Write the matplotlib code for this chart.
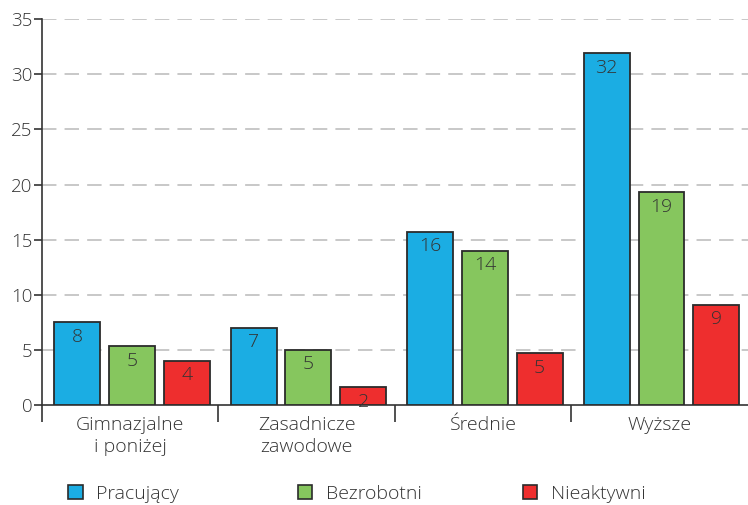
import matplotlib
matplotlib.use("Agg")

import matplotlib.pyplot as plt
import matplotlib.patches as mpatches
import numpy as np

plt.rcParams["font.family"] = ["Open Sans", "DejaVu Sans"]
plt.rcParams["font.weight"] = 300

# Education level groups and share values (%) for each labour-market status
categories = ["Gimnazjalne\ni poniżej", "Zasadnicze\nzawodowe", "Średnie", "Wyższe"]
series_names = ["Pracujący", "Bezrobotni", "Nieaktywni"]
pracujacy = [7.5, 7.0, 15.7, 31.9]
bezrobotni = [5.35, 5.0, 14.0, 19.3]
nieaktywni = [4.0, 1.6, 4.7, 9.1]
yticks = [0, 5, 10, 15, 20, 25, 30, 35]

colors = ["#1badE3", "#86c65e", "#ee2e2e"]
edge = "#2b2b2b"
text_col = "#333333"

fig = plt.figure(figsize=(7.48, 5.05), dpi=100)
ax = fig.add_axes([0.056, 0.198, 0.944, 0.764])

x = np.arange(len(categories))
bar_w = 0.26
gap = 0.31
series = [pracujacy, bezrobotni, nieaktywni]
for i, (vals, col) in enumerate(zip(series, colors)):
    pos = x + 0.51 + (i - 1) * gap
    ax.bar(pos, vals, width=bar_w, color=col, edgecolor=edge, linewidth=1.3, zorder=3)
    for px, v in zip(pos, vals):
        ax.annotate(f"{v:.0f}", xy=(px, v), xytext=(0, -4), textcoords="offset points",
                    ha="center", va="top", fontsize=14, color=text_col, zorder=4)

ax.set_xlim(0, 4)
ax.set_ylim(0, 35)

# y axis
ax.set_yticks(yticks)
ax.tick_params(axis="y", direction="out", length=6, width=1.2, color="#333333",
               labelsize=13.5, labelcolor=text_col, pad=1)
for v in yticks[1:]:
    ax.axhline(v, color="#c4c4c4", linewidth=1.3, linestyle=(0, (8, 4.5)), zorder=1)

# x axis: boundary ticks, labels centred between them
ax.set_xticks(np.arange(0, 4))
ax.set_xticklabels([])
ax.tick_params(axis="x", which="major", direction="out", length=12, width=1.2, color="#333333")
ax.set_xticks(x + 0.5, minor=True)
ax.set_xticklabels(categories, minor=True, linespacing=1.25)
ax.tick_params(axis="x", which="minor", length=0, labelsize=14, labelcolor=text_col, pad=8)

for s in ["top", "right"]:
    ax.spines[s].set_visible(False)
for s in ["left", "bottom"]:
    ax.spines[s].set_color("#333333")
    ax.spines[s].set_linewidth(1.2)

# legend entries spread along the bottom
legend_x = [0.091, 0.398, 0.699]
for name, col, lx in zip(series_names, colors, legend_x):
    h = mpatches.Patch(facecolor=col, edgecolor=edge, linewidth=1.2)
    fig.legend([h], [name], loc="center left", bbox_to_anchor=(lx, 0.022),
               frameon=False, fontsize=14, labelcolor=text_col,
               handlelength=0.75, handleheight=0.75, handletextpad=0.7,
               borderpad=0, borderaxespad=0)

fig.savefig("out.png", dpi=100)
